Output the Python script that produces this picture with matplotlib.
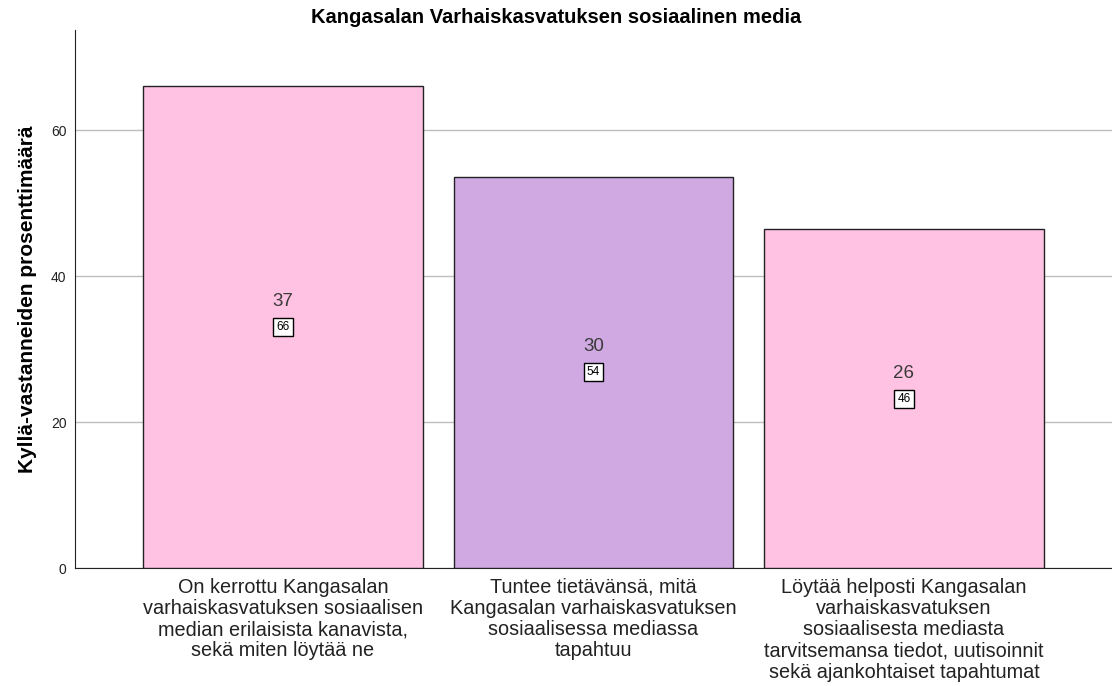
import matplotlib
matplotlib.use("Agg")
import matplotlib.pyplot as plt

categories = [
    "On kerrottu Kangasalan\nvarhaiskasvatuksen sosiaalisen\nmedian erilaisista kanavista,\nsekä miten löytää ne",
    "Tuntee tietävänsä, mitä\nKangasalan varhaiskasvatuksen\nsosiaalisessa mediassa\ntapahtuu",
    "Löytää helposti Kangasalan\nvarhaiskasvatuksen\nsosiaalisesta mediasta\ntarvitsemansa tiedot, uutisoinnit\nsekä ajankohtaiset tapahtumat",
]
percentages = [66.1, 53.6, 46.4]
counts = [37, 30, 26]
pct_labels = ["66", "54", "46"]
colors = ["#FFC2E2", "#D0A9E3", "#FFC2E2"]
yticks = [0, 20, 40, 60]

plt.rcParams['font.family'] = ['Liberation Sans', 'DejaVu Sans']

fig = plt.figure(figsize=(11.12, 6.86), dpi=100)
ax = fig.add_axes([0.0674, 0.172, 0.9326, 0.784])

x = list(range(len(categories)))
ax.bar(x, percentages, width=0.9, color=colors, edgecolor="#222222", linewidth=1.0, zorder=3)

for xi, p, c, pl in zip(x, percentages, counts, pct_labels):
    ax.text(xi, p / 2 + 3.5, str(c), ha="center", va="center", fontsize=13.5, color="#3a3a3a", zorder=4)
    ax.text(xi, p / 2, pl, ha="center", va="center", fontsize=8.5, color="black", zorder=4,
            bbox=dict(boxstyle="square,pad=0.25", facecolor="white", edgecolor="black", linewidth=1.0))

ax.set_xlim(-0.67, 2.67)
ax.set_ylim(0, 73.7)
ax.set_yticks(yticks)
ax.set_xticks(x)
ax.set_xticklabels(categories, fontsize=14.3, color="#222222", linespacing=1.15)
ax.tick_params(axis="y", length=0, labelsize=10, pad=6, labelcolor="#222222")
ax.tick_params(axis="x", length=0, pad=7)
ax.yaxis.grid(True, color="#BDBDBD", linewidth=1.0, zorder=0)
ax.set_axisbelow(True)
for s in ["top", "right"]:
    ax.spines[s].set_visible(False)
ax.spines["left"].set_color("#222222")
ax.spines["bottom"].set_color("#222222")
ax.set_ylabel("Kyllä-vastanneiden prosenttimäärä", fontsize=15, fontweight="bold", labelpad=10)
fig.text(0.5, 0.975, "Kangasalan Varhaiskasvatuksen sosiaalinen media", ha="center", va="center",
         fontsize=14.5, fontweight="bold")

fig.savefig("out.png", dpi=100)
